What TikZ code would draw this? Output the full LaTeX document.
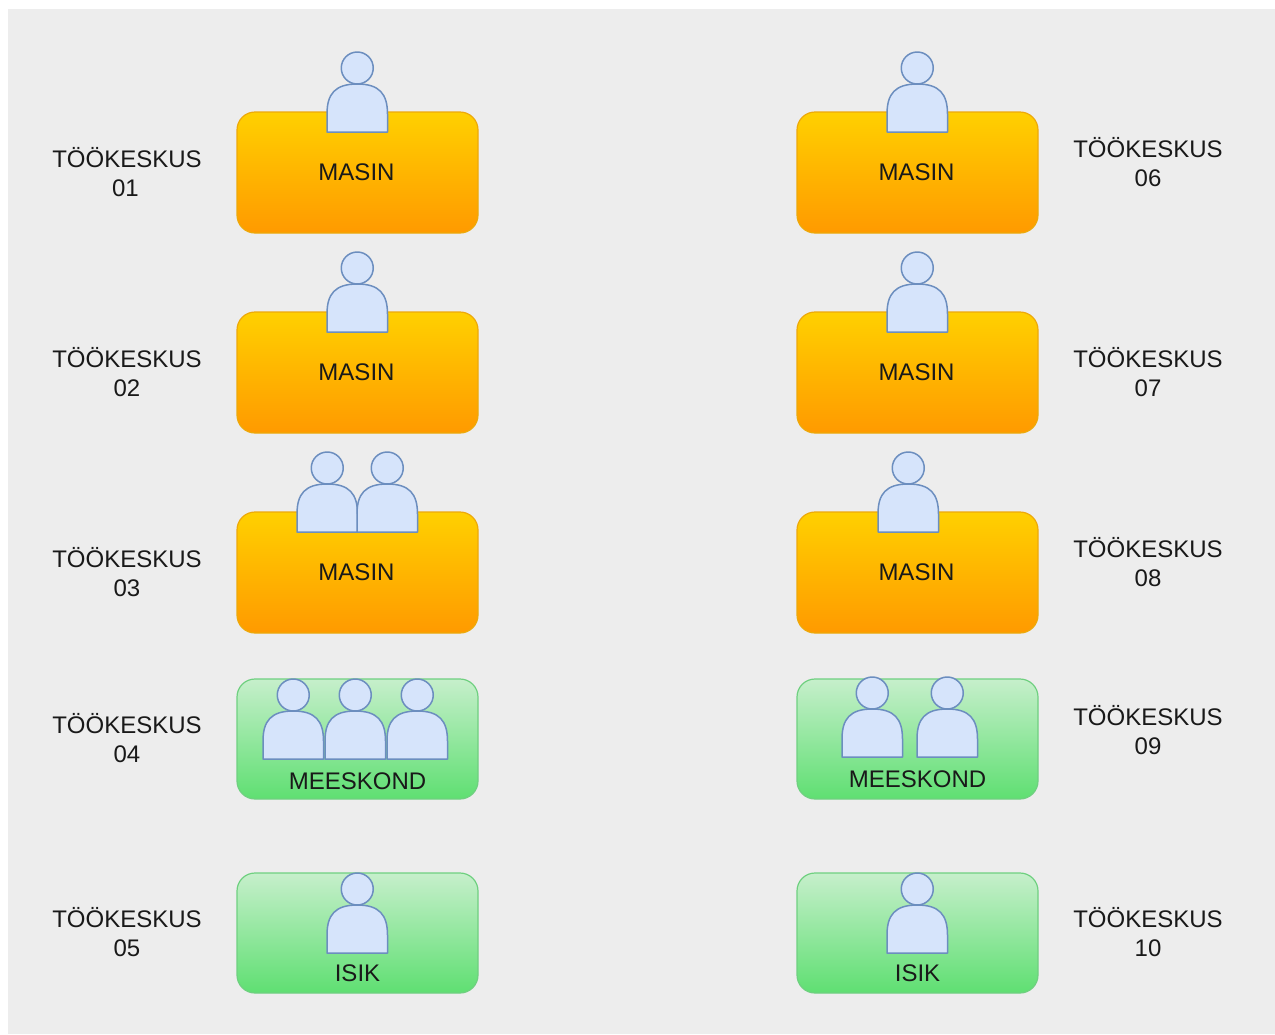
\documentclass[tikz,border=0pt]{standalone}
\usepackage{fontspec}
\setmainfont{Liberation Sans}
\definecolor{bgc}{HTML}{EDEDED}
\definecolor{orT}{HTML}{FFD000}
\definecolor{orB}{HTML}{FF9A00}
\definecolor{orS}{HTML}{EDA90A}
\definecolor{grT}{HTML}{C6EFCB}
\definecolor{grB}{HTML}{5FDF72}
\definecolor{grS}{HTML}{6FD080}
\definecolor{peF}{HTML}{D6E4FB}
\definecolor{peS}{HTML}{6C8EBF}
\tikzset{
  base/.style={rounded corners=18pt, minimum width=241pt, line width=1.2pt, inner sep=0pt},
  machine/.style={base, draw=orS, top color=orT, bottom color=orB, minimum height=121pt},
  crew/.style={base, draw=grS, top color=grT, bottom color=grB, minimum height=120pt},
  person/.style={draw=peS, fill=peF, line width=1.5pt, line join=round},
  captxt/.style={font=\fontsize{24}{29}\selectfont, text=black!90, inner sep=0pt},
  wc/.style={captxt, align=center},
}
\newcommand{\actor}[2]{%
  \path[person] (#1,#2+80) -- (#1,#2+62) .. controls (#1,#2+42) and (#1+8,#2+32) .. (#1+30.25,#2+32)
     .. controls (#1+52.5,#2+32) and (#1+60.5,#2+42) .. (#1+60.5,#2+62) -- (#1+60.5,#2+80) -- cycle;
  \path[person] (#1+30.25,#2+16) ellipse [x radius=16pt, y radius=16pt];
}
\begin{document}
\begin{tikzpicture}[x=1pt,y=-1pt]
\useasboundingbox (0,0) rectangle (1275,1034);
\fill[bgc] (8,9) rectangle (1275,1034);
% boxes, left
\node[machine] (a1) at (357.5,172.5) {};
\node[machine] (a2) at (357.5,372.5) {};
\node[machine] (a3) at (357.5,572.5) {};
\node[crew] (a4) at (357.5,739) {};
\node[crew] (a5) at (357.5,933) {};
% boxes, right
\node[machine] (b1) at (917.5,172.5) {};
\node[machine] (b2) at (917.5,372.5) {};
\node[machine] (b3) at (917.5,572.5) {};
\node[crew] (b4) at (917.5,739) {};
\node[crew] (b5) at (917.5,933) {};
% people
\actor{327}{52}
\actor{327}{252}
\actor{297}{452}
\actor{357}{452}
\actor{263}{679}
\actor{325}{679}
\actor{387}{679}
\actor{327}{873}
\actor{887}{52}
\actor{887}{252}
\actor{878}{452}
\actor{842}{677}
\actor{917}{677}
\actor{887}{873}
% box captions
\node[captxt] (ta1) at (356.5,172) {MASIN};
\node[captxt] (ta2) at (356.5,372) {MASIN};
\node[captxt] (ta3) at (356.5,572) {MASIN};
\node[captxt] (ta4) at (357.5,781) {MEESKOND};
\node[captxt] (ta5) at (357.5,973) {ISIK};
\node[captxt] (tb1) at (916.5,172) {MASIN};
\node[captxt] (tb2) at (916.5,372) {MASIN};
\node[captxt] (tb3) at (916.5,572) {MASIN};
\node[captxt] (tb4) at (917.5,779) {MEESKOND};
\node[captxt] (tb5) at (917.5,973) {ISIK};
% work centre labels
\node[wc] (l1) at (127,172.5) {TÖÖKESKUS\\\hspace*{-3pt}01};
\node[wc] (l2) at (127,372.5) {TÖÖKESKUS\\02};
\node[wc] (l3) at (127,572.5) {TÖÖKESKUS\\03};
\node[wc] (l4) at (127,738.5) {TÖÖKESKUS\\04};
\node[wc] (l5) at (127,932.5) {TÖÖKESKUS\\05};
\node[wc] (r1) at (1148,162.5) {TÖÖKESKUS\\06};
\node[wc] (r2) at (1148,372.5) {TÖÖKESKUS\\07};
\node[wc] (r3) at (1148,562.5) {TÖÖKESKUS\\08};
\node[wc] (r4) at (1148,730.5) {TÖÖKESKUS\\09};
\node[wc] (r5) at (1148,932.5) {TÖÖKESKUS\\10};
\end{tikzpicture}
\end{document}
